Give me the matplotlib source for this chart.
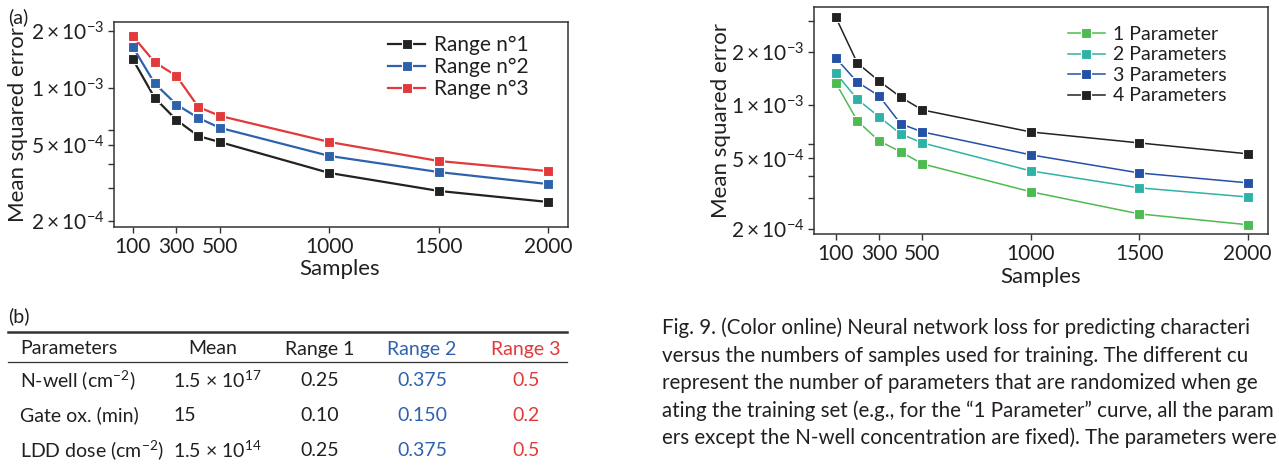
import matplotlib
matplotlib.use("Agg")
import matplotlib.pyplot as plt
from matplotlib.lines import Line2D
from matplotlib.ticker import FixedLocator, FuncFormatter, NullFormatter

plt.rcParams['font.family'] = ['Lato', 'DejaVu Sans']
plt.rcParams['mathtext.fontset'] = 'custom'
plt.rcParams['mathtext.rm'] = 'Lato'
plt.rcParams['mathtext.it'] = 'Lato:italic'
plt.rcParams['mathtext.bf'] = 'Lato:bold'

# ---- data ----
samples = [100, 200, 300, 400, 500, 1000, 1500, 2000]

range_labels = ['Range n°1', 'Range n°2', 'Range n°3']
range_1 = [1.42e-3, 8.9e-4, 6.8e-4, 5.6e-4, 5.2e-4, 3.58e-4, 2.88e-4, 2.52e-4]
range_2 = [1.65e-3, 1.06e-3, 8.2e-4, 6.97e-4, 6.18e-4, 4.4e-4, 3.62e-4, 3.13e-4]
range_3 = [1.88e-3, 1.37e-3, 1.16e-3, 7.96e-4, 7.14e-4, 5.21e-4, 4.14e-4, 3.66e-4]

param_labels = ['1 Parameter', '2 Parameters', '3 Parameters', '4 Parameters']
param_1 = [1.34e-3, 8.15e-4, 6.28e-4, 5.45e-4, 4.66e-4, 3.24e-4, 2.43e-4, 2.11e-4]
param_2 = [1.52e-3, 1.08e-3, 8.6e-4, 6.88e-4, 6.12e-4, 4.25e-4, 3.41e-4, 3.03e-4]
param_3 = [1.85e-3, 1.35e-3, 1.13e-3, 7.84e-4, 7.06e-4, 5.24e-4, 4.14e-4, 3.64e-4]
param_4 = [3.15e-3, 1.73e-3, 1.37e-3, 1.11e-3, 9.4e-4, 7.06e-4, 6.12e-4, 5.31e-4]

xticks = [100, 300, 500, 1000, 1500, 2000]
yticks = [2e-4, 5e-4, 1e-3, 2e-3]
yminor = [3e-4, 4e-4, 6e-4, 3e-3]

table_header = ['Parameters', 'Mean', 'Range 1', 'Range 2', 'Range 3']
table_params = ['N-well (cm$^{-2}$)', 'Gate ox. (min)', 'LDD dose (cm$^{-2}$)']
table_mean = [r'1.5 $\times$ 10$^{17}$', '15', r'1.5 $\times$ 10$^{14}$']
table_r1 = ['0.25', '0.10', '0.25']
table_r2 = ['0.375', '0.150', '0.375']
table_r3 = ['0.5', '0.2', '0.5']

caption = [
    'Fig. 9. (Color online) Neural network loss for predicting characteri',
    'versus the numbers of samples used for training. The different cu',
    'represent the number of parameters that are randomized when ge',
    'ating the training set (e.g., for the \u201c1 Parameter\u201d curve, all the param',
    'ers except the N-well concentration are fixed). The parameters were',
]

BLACK = '#222222'
BLUE_A = '#2e62ad'
RED_A = '#e2393a'
GREEN = '#4dbb50'
TEAL = '#2fb2a6'
BLUE_B = '#2451a6'
TXT = '#231f20'


def sci(v, pos=None):
    exp = int(f'{v:e}'.split('e')[1])
    mant = round(v / 10 ** exp)
    return r'$%d\times10^{%d}$' % (mant, exp)


def style_axes(ax, xlim, ylim):
    ax.set_yscale('log')
    ax.set_xlim(*xlim)
    ax.set_ylim(*ylim)
    ax.xaxis.set_major_locator(FixedLocator(xticks))
    ax.yaxis.set_major_locator(FixedLocator(yticks))
    ax.yaxis.set_minor_locator(FixedLocator(yminor))
    ax.yaxis.set_major_formatter(FuncFormatter(sci))
    ax.yaxis.set_minor_formatter(NullFormatter())
    ax.tick_params(which='both', direction='out', length=4, width=1,
                   color='#333333', labelsize=15, labelcolor=TXT, pad=3)
    for s in ax.spines.values():
        s.set_color('#333333')
        s.set_linewidth(1.1)
    ax.set_xlabel('Samples', fontsize=16, color=TXT)
    ax.set_ylabel('Mean squared error', fontsize=16, color=TXT)


fig = plt.figure(figsize=(12.79, 4.65), dpi=100)

# ---- panel (a) ----
ax1 = fig.add_axes([114 / 1279, 1 - 227 / 465, 454 / 1279, 205 / 465])
for ys, c, lab in zip([range_1, range_2, range_3], [BLACK, BLUE_A, RED_A], range_labels):
    ax1.plot(samples, ys, '-s', color=c, lw=1.6, ms=7, mec='white', mew=0.8, label=lab)
style_axes(ax1, (14, 2092), (1.86e-4, 2.23e-3))
ax1.xaxis.set_label_coords(0.498, -0.156)
ax1.yaxis.set_label_coords(-0.189, 0.5)
ax1.legend(loc='upper left', bbox_to_anchor=(0.603, 0.935), frameon=False,
           fontsize=15, labelspacing=0.1, handletextpad=0.4, handlelength=1.8,
           borderpad=0, borderaxespad=0, labelcolor=TXT)
fig.text(8 / 1279, 1 - 17 / 465, '(a)', fontsize=14, color=TXT, va='center')

# ---- right panel ----
ax2 = fig.add_axes([814 / 1279, 1 - 234 / 465, 454 / 1279, 227 / 465])
for ys, c, lab in zip([param_1, param_2, param_3, param_4],
                      [GREEN, TEAL, BLUE_B, BLACK], param_labels):
    ax2.plot(samples, ys, '-s', color=c, lw=1.1, ms=7, mec='white', mew=0.8, label=lab)
style_axes(ax2, (0, 2094), (1.87e-4, 3.59e-3))
ax2.xaxis.set_label_coords(0.5, -0.145)
ax2.yaxis.set_label_coords(-0.183, 0.5)
ax2.legend(loc='upper left', bbox_to_anchor=(0.559, 0.917), frameon=False,
           fontsize=14, labelspacing=0.18, handletextpad=0.45, handlelength=1.9,
           borderpad=0, borderaxespad=0, labelcolor=TXT)

# ---- table (b) ----
fig.text(8 / 1279, 1 - 316 / 465, '(b)', fontsize=14, color=TXT, va='center')
fig.add_artist(Line2D([8 / 1279, 567 / 1279], [1 - 332 / 465] * 2, color='#333333', lw=1.8))
fig.add_artist(Line2D([8 / 1279, 567 / 1279], [1 - 362 / 465] * 2, color='#333333', lw=0.9))

col_x = [20, 213, 320, 422, 526]
col_ha = ['left', 'center', 'center', 'center', 'center']
head_colors = [TXT, TXT, TXT, BLUE_A, RED_A]
for x, ha, c, t in zip(col_x, col_ha, head_colors, table_header):
    fig.text(x / 1279, 1 - 349 / 465, t, fontsize=14, color=c, ha=ha, va='center')

row_y = [380, 415, 450]
for i, y in enumerate(row_y):
    yy = 1 - y / 465
    fig.text(20 / 1279, yy, table_params[i], fontsize=14, color=TXT, va='center')
    fig.text(173 / 1279, yy, table_mean[i], fontsize=14, color=TXT, va='center')
    fig.text(320 / 1279, yy, table_r1[i], fontsize=14, color=TXT, ha='center', va='center')
    fig.text(422 / 1279, yy, table_r2[i], fontsize=14, color=BLUE_A, ha='center', va='center')
    fig.text(526 / 1279, yy, table_r3[i], fontsize=14, color=RED_A, ha='center', va='center')

# ---- caption ----
for i, line in enumerate(caption):
    fig.text(662 / 1279, 1 - (328 + 27.5 * i) / 465, line, fontsize=14.8,
             color=TXT, va='center')

fig.savefig('out.png', dpi=100)
